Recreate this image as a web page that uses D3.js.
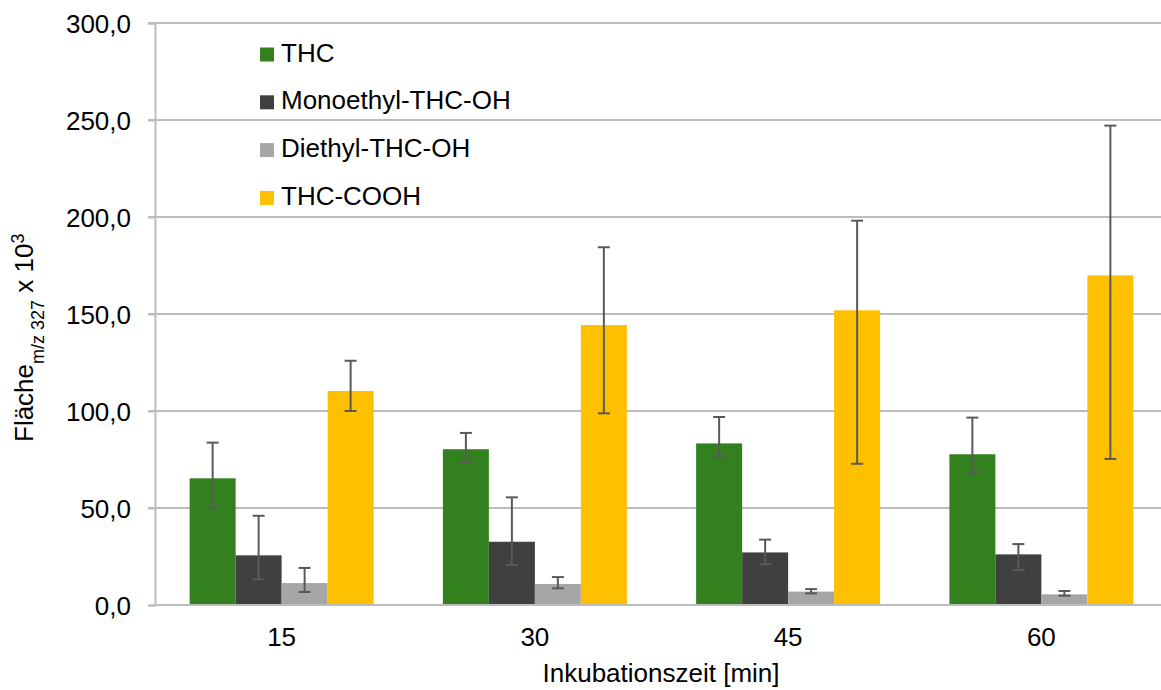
<!DOCTYPE html>
<html lang="de">
<head>
    <meta charset="UTF-8">
    <title>Fläche vs Inkubationszeit</title>
    <script src="https://d3js.org/d3.v7.min.js"></script>
    <style>
        body {
            margin: 0;
            background: #fff;
            font-family: "Liberation Sans", Arial, sans-serif;
        }
        text {
            fill: #000;
        }
    </style>
</head>
<body>
    <div id="chart"></div>

    <script>
        // Data (means, upper and lower error bar ends)
        const categories = ["15", "30", "45", "60"];
        const seriesNames = ["THC", "Monoethyl-THC-OH", "Diethyl-THC-OH", "THC-COOH"];
        const colors = ["#33801e", "#404040", "#a6a6a6", "#ffc000"];

        const thc = [65.3, 80.3, 83.3, 77.7];
        const thcHigh = [83.7, 88.7, 96.9, 96.6];
        const thcLow = [50.4, 73.7, 76.5, 67.9];

        const monoethyl = [25.6, 32.6, 27.1, 26.1];
        const monoethylHigh = [46.0, 55.5, 33.7, 31.4];
        const monoethylLow = [13.2, 20.6, 21.0, 18.0];

        const diethyl = [11.3, 10.8, 6.9, 5.5];
        const diethylHigh = [19.1, 14.4, 8.2, 7.2];
        const diethylLow = [6.7, 8.6, 6.0, 4.8];

        const thcCooh = [110.3, 144.3, 151.9, 169.9];
        const thcCoohHigh = [125.9, 184.4, 198.1, 247.1];
        const thcCoohLow = [100.0, 98.8, 72.8, 75.3];

        const yTicks = [0, 50, 100, 150, 200, 250, 300];

        const means = [thc, monoethyl, diethyl, thcCooh];
        const highs = [thcHigh, monoethylHigh, diethylHigh, thcCoohHigh];
        const lows = [thcLow, monoethylLow, diethylLow, thcCoohLow];

        // Flat table for the bars
        const rows = [];
        categories.forEach((c, i) => {
            seriesNames.forEach((s, j) => {
                rows.push({ cat: c, series: s, idx: j, value: means[j][i], hi: highs[j][i], lo: lows[j][i] });
            });
        });

        const width = 1161, height = 690;
        const plot = { left: 155, right: 1168, top: 23, bottom: 605 };

        const svg = d3.select("#chart")
            .append("svg")
            .attr("width", width)
            .attr("height", height)
            .style("font-family", '"Liberation Sans", Arial, sans-serif');

        const x0 = d3.scaleBand()
            .domain(categories)
            .range([plot.left, plot.right])
            .paddingInner(0.2735)
            .paddingOuter(0.2735 / 2);

        const x1 = d3.scaleBand()
            .domain(seriesNames)
            .range([0, x0.bandwidth()]);

        const y = d3.scaleLinear()
            .domain([0, 300])
            .range([plot.bottom, plot.top]);

        const de = d3.formatLocale({ decimal: ",", thousands: ".", grouping: [3], currency: ["", " €"] });

        // Gridlines
        svg.append("g")
            .selectAll("line")
            .data(yTicks.filter(t => t > 0))
            .enter()
            .append("line")
            .attr("x1", plot.left - 7)
            .attr("x2", width)
            .attr("y1", d => y(d))
            .attr("y2", d => y(d))
            .attr("stroke", "#bcbcbc")
            .attr("stroke-width", 2);

        // Y axis
        const yAxis = svg.append("g")
            .attr("transform", `translate(${plot.left},0)`)
            .call(d3.axisLeft(y).tickValues(yTicks).tickSize(7).tickPadding(17).tickFormat(de.format(".1f")));
        yAxis.select(".domain").attr("stroke", "#bcbcbc").attr("stroke-width", 2);
        yAxis.selectAll(".tick line").attr("stroke", "#bcbcbc").attr("stroke-width", 2);
        yAxis.selectAll(".tick text")
            .attr("font-size", 26)
            .attr("fill", "#000")
            .attr("dy", "0.35em");

        // Bars
        const groups = svg.append("g")
            .selectAll("g")
            .data(categories)
            .enter()
            .append("g")
            .attr("transform", d => `translate(${x0(d)},0)`);

        groups.selectAll("rect")
            .data(c => rows.filter(r => r.cat === c))
            .enter()
            .append("rect")
            .attr("x", d => x1(d.series))
            .attr("y", d => y(d.value))
            .attr("width", x1.bandwidth())
            .attr("height", d => y(0) - y(d.value))
            .attr("fill", d => colors[d.idx]);

        // X axis line
        svg.append("line")
            .attr("x1", plot.left)
            .attr("x2", width)
            .attr("y1", plot.bottom)
            .attr("y2", plot.bottom)
            .attr("stroke", "#bcbcbc")
            .attr("stroke-width", 2);

        // Error bars
        const err = groups.selectAll("g.err")
            .data(c => rows.filter(r => r.cat === c))
            .enter()
            .append("g")
            .attr("class", "err")
            .attr("stroke", "#595959")
            .attr("stroke-width", 2);

        const cx = d => x1(d.series) + x1.bandwidth() / 2;
        err.append("line")
            .attr("x1", cx).attr("x2", cx)
            .attr("y1", d => y(d.hi)).attr("y2", d => y(d.lo));
        err.append("line")
            .attr("x1", d => cx(d) - 6).attr("x2", d => cx(d) + 6)
            .attr("y1", d => y(d.hi)).attr("y2", d => y(d.hi));
        err.append("line")
            .attr("x1", d => cx(d) - 6).attr("x2", d => cx(d) + 6)
            .attr("y1", d => y(d.lo)).attr("y2", d => y(d.lo));

        // X tick labels
        svg.append("g")
            .selectAll("text")
            .data(categories)
            .enter()
            .append("text")
            .attr("x", d => x0(d) + x0.bandwidth() / 2)
            .attr("y", 646)
            .attr("text-anchor", "middle")
            .attr("font-size", 26)
            .text(d => d);

        // X axis title
        svg.append("text")
            .attr("x", 661)
            .attr("y", 682)
            .attr("text-anchor", "middle")
            .attr("font-size", 26)
            .text("Inkubationszeit [min]");

        // Y axis title with subscript and superscript
        const yTitle = svg.append("text")
            .attr("transform", "translate(33,442) rotate(-90)")
            .attr("font-size", 26);
        yTitle.append("tspan").text("Fläche");
        yTitle.append("tspan").attr("font-size", 18).attr("dy", 11).text("m/z 327");
        yTitle.append("tspan").attr("dy", -11).text(" x 10");
        yTitle.append("tspan").attr("font-size", 18).attr("dy", -9).text("3");

        // Legend
        const legend = svg.append("g")
            .selectAll("g")
            .data(seriesNames)
            .enter()
            .append("g")
            .attr("transform", (d, i) => `translate(260,${61.5 + i * 47.8})`);
        legend.append("rect")
            .attr("x", 0)
            .attr("y", -14)
            .attr("width", 14)
            .attr("height", 14)
            .attr("fill", (d, i) => colors[i]);
        legend.append("text")
            .attr("x", 21)
            .attr("y", 0)
            .attr("font-size", 26)
            .text(d => d);
    </script>
</body>
</html>
